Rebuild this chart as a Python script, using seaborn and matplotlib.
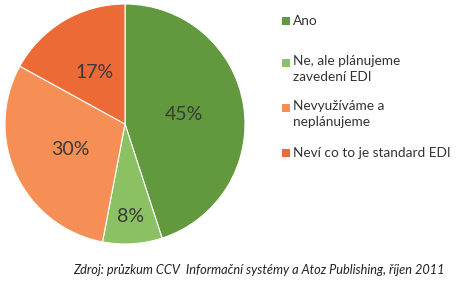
import matplotlib
matplotlib.use("Agg")
import matplotlib.pyplot as plt
import seaborn as sns
import numpy as np
from matplotlib.patches import Rectangle

sns.set_theme(style="white")
plt.rcParams['font.family'] = ['Lato', 'DejaVu Sans']

categories = ["Ano", "Ne, ale plánujeme\nzavedení EDI", "Nevyužíváme a\nneplánujeme", "Neví co to je standard EDI"]
values = [45, 8, 30, 17]
colors = ["#62993e", "#8cc163", "#f68f55", "#ec6a36"]
source = "Zdroj: průzkum CCV  Informační systémy a Atoz Publishing, říjen 2011"

W, H = 461, 292
fig = plt.figure(figsize=(W / 100, H / 100), dpi=100)
fig.patch.set_facecolor("white")
ax = fig.add_axes([5 / W, (H - 244) / H, 240 / W, 240 / H])

wedges, texts, autotexts = ax.pie(
    values, colors=colors, startangle=90, counterclock=False,
    autopct=lambda p: f"{p:.0f}%", pctdistance=0.5,
    wedgeprops=dict(linewidth=0.8, edgecolor="white"),
    textprops=dict(fontsize=14, color="#3a3a3a"),
)
ax.set_xlim(-1.0, 1.0)
ax.set_ylim(-1.0, 1.0)
ax.set_aspect("equal")
# move small slice label outward
for w, t, v in zip(wedges, autotexts, values):
    if v < 10:
        mid = np.deg2rad((w.theta1 + w.theta2) / 2)
        t.set_position((0.77 * np.cos(mid), 0.77 * np.sin(mid)))

# legend (manual placement to mirror the reference spacing)
first_line_y = [21, 63, 108, 153]
for lab, c, y in zip(categories, colors, first_line_y):
    fig.add_artist(Rectangle((282 / W, (H - y - 4) / H), 8 / W, 8 / H,
                             transform=fig.transFigure, facecolor=c, edgecolor="none"))
    multi = "\n" in lab
    fig.text(293 / W, (H - (y - 8 if multi else y)) / H, lab, ha="left",
             va="top" if multi else "center",
             fontsize=9.8, color="#333333", linespacing=1.4,
             transform=fig.transFigure)

fig.text(445 / W, (H - 270) / H, source, ha="right", va="center",
         fontsize=9.2, style="italic", color="#222222")

fig.savefig("out.png", dpi=100)
